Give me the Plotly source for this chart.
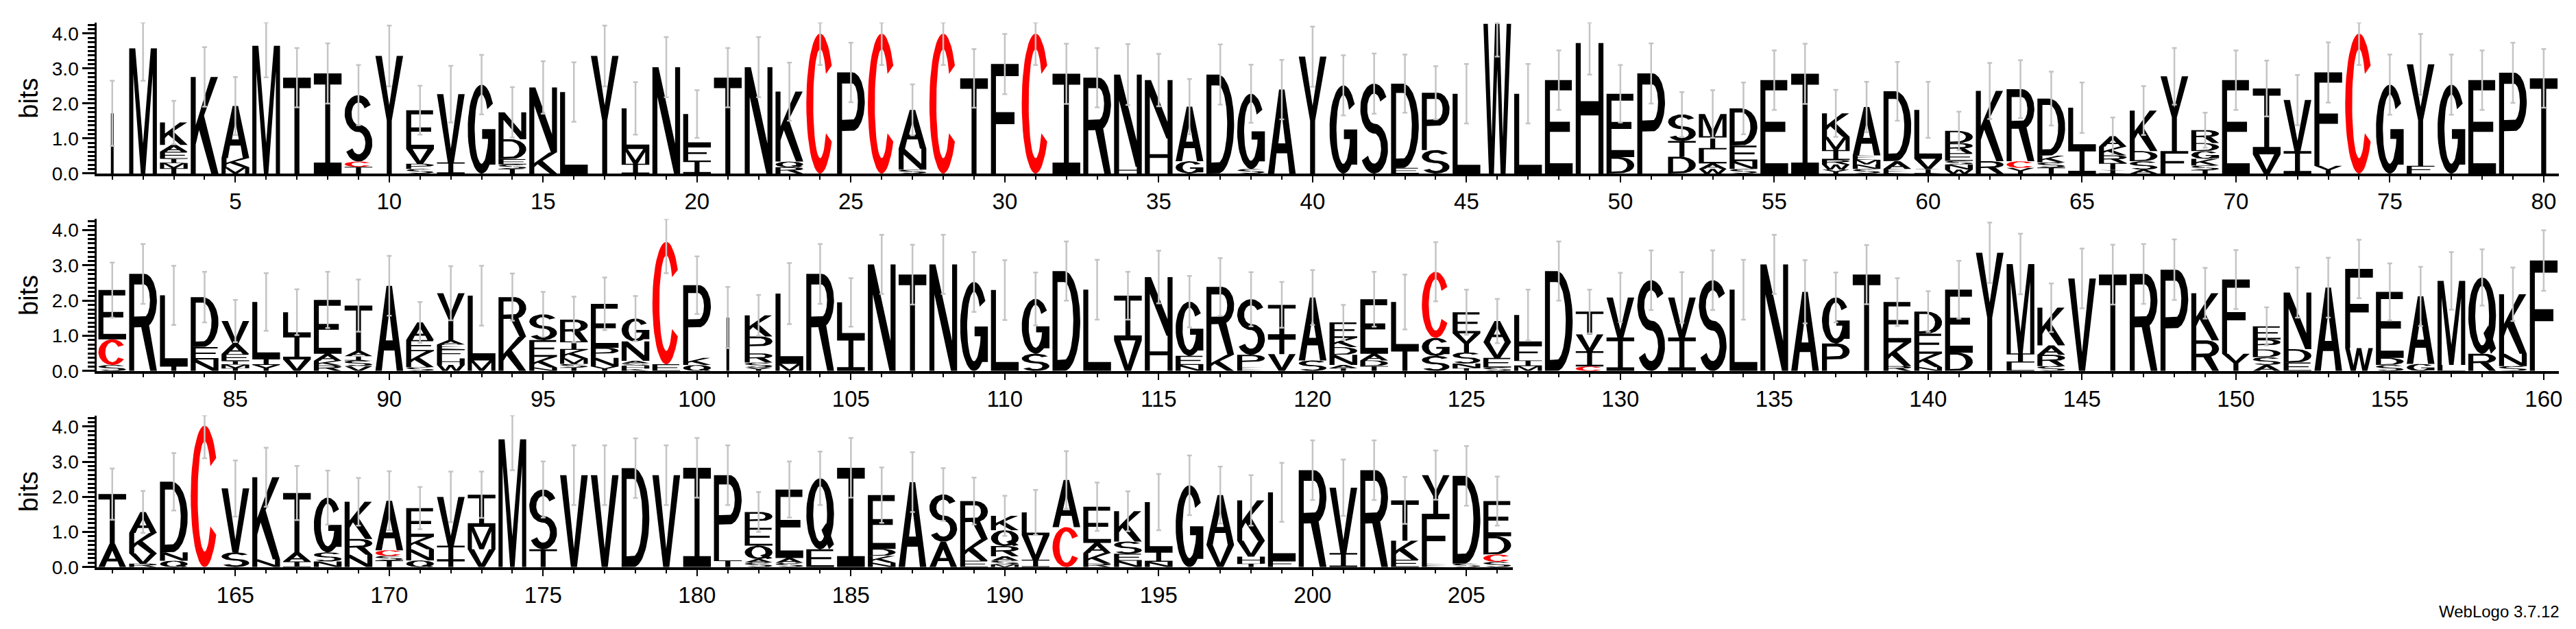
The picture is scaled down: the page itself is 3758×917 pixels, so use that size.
import math
import plotly.graph_objects as go

# ---------------- data (bottom -> top letter stacks, heights in bits) ----------------
row1_start = 1
row1_stacks = [
    "|:1.72", "M:3.58", "T:0.15 M:0.15 I:0.12 E:0.2 A:0.2 K:0.64", "K:2.76", "M:0.18 K:0.26 A:1.49",
    "M:3.65", "T:2.74", "I:2.86", "T:0.19 C:0.15 S:1.9", "Y:3.36",
    "S:0.13 P:0.15 V:0.42 E:1.11", "I:0.32 V:1.95", "G:2.54", "T:0.13 S:0.13 E:0.15 D:0.57 N:0.77", "K:0.6 N:1.86",
    "L:2.33", "Y:3.36", "I:0.28 M:0.42 L:1.16", "N:3.04", "I:0.37 F:0.42 L:0.91",
    "T:2.74", "N:3.04", "R:0.18 Q:0.16 K:2.0", "C:4.0", "P:2.89",
    "C:4.0", "S:0.11 N:0.6 A:1.11", "C:4.0", "T:2.72", "F:3.13",
    "C:4.0", "I:2.85", "R:2.74", "H:0.19 N:2.64", "H:1.0 N:1.67",
    "G:0.35 A:1.56", "D:2.83", "S:0.13 G:2.15", "A:2.4", "Y:3.34",
    "G:2.52", "S:2.57", "E:0.16 D:2.41", "S:0.67 P:1.64", "L:2.28",
    "W:4.28", "L:2.28", "E:2.67", "H:3.73", "D:0.47 E:1.81",
    "P:2.86", "D:0.48 T:0.45 S:0.76", "W:0.13 A:0.16 L:0.4 I:0.38 M:0.63", "S:0.13 N:0.22 E:0.45 D:1.06", "E:2.67",
    "I:2.85", "Y:0.11 W:0.15 R:0.13 I:0.28 M:0.38 K:0.67", "S:0.13 N:0.13 M:0.13 E:0.13 A:1.38", "E:0.13 A:0.22 D:2.0", "I:0.13 V:0.29 L:1.4",
    "W:0.11 N:0.15 S:0.1 E:0.22 R:0.29 D:0.35", "R:0.35 K:2.01", "Y:0.16 C:0.19 R:2.06", "T:0.17 S:0.15 K:0.19 D:1.63", "I:0.71 L:1.17",
    "I:0.1 T:0.2 R:0.22 K:0.25 A:0.3", "A:0.11 S:0.24 D:0.29 K:1.16", "F:0.64 Y:2.14", "T:0.1 S:0.13 K:0.19 G:0.22 D:0.23 R:0.37", "E:2.67",
    "V:0.55 I:1.88", "I:0.64 V:1.46", "Y:0.22 F:2.67", "C:4.0", "G:2.54",
    "F:0.22 Y:2.9", "G:2.54", "E:2.67", "P:2.88", "T:2.72",
]
row1_err = [
    0.93, 0.93, 0.62, 0.85, 0.83, 0.90, 0.85, 0.86, 0.86, 0.87,
    0.70, 0.81, 0.85, 0.72, 0.75, 0.85, 0.87, 0.75, 0.86, 0.68,
    0.85, 0.86, 0.83, 0.90, 0.85, 0.90, 0.73, 0.90, 0.84, 0.86,
    0.90, 0.86, 0.85, 0.87, 0.75, 0.79, 0.86, 0.83, 0.85, 0.86,
    0.86, 0.86, 0.83, 0.76, 0.85, 0.94, 0.85, 0.85, 0.90, 0.82,
    0.86, 0.64, 0.68, 0.74, 0.85, 0.86, 0.67, 0.72, 0.84, 0.80,
    0.55, 0.80, 0.83, 0.77, 0.72, 0.53, 0.70, 0.81, 0.50, 0.85,
    0.80, 0.72, 0.86, 0.90, 0.86, 0.87, 0.86, 0.85, 0.86, 0.84,
]

row2_start = 81
row2_stacks = [
    "S:0.17 C:0.73 E:1.4", "R:2.76", "T:0.14 L:2.01", "N:0.33 E:0.35 D:1.42", "T:0.08 M:0.1 I:0.1 E:0.2 A:0.3 V:0.64",
    "Y:0.17 I:0.18 L:1.61", "V:0.33 I:0.7 L:0.64", "R:0.16 K:0.13 A:0.2 E:1.53", "V:0.14 S:0.16 I:0.12 A:0.15 T:1.29", "A:2.42",
    "S:0.11 K:0.45 E:0.32 A:0.5", "W:0.17 H:0.19 F:0.26 E:0.13 A:0.13 Y:1.33", "M:0.3 L:1.84", "K:0.97 R:1.13", "N:0.1 K:0.3 E:0.48 S:0.73",
    "T:0.1 S:0.1 M:0.16 K:0.24 I:0.24 R:0.62", "Y:0.13 N:0.24 P:0.29 E:1.25", "K:0.07 H:0.08 S:0.07 A:0.07 N:0.55 G:0.65", "E:0.19 C:3.48", "Q:0.17 K:0.2 P:2.07",
    "|:1.52", "Y:0.1 S:0.14 R:0.26 P:0.48 K:0.6", "M:0.2 L:2.0", "R:2.76", "I:0.97 L:0.98",
    "N:3.03", "T:2.74", "N:3.03", "G:2.53", "L:2.3",
    "S:0.49 G:1.56", "D:2.84", "L:2.31", "V:0.87 I:1.27", "H:1.0 N:1.67",
    "N:0.17 E:0.26 G:1.54", "K:0.46 R:1.93", "E:0.11 P:0.35 S:1.58", "V:0.48 T:0.46 I:0.94", "S:0.3 A:1.79",
    "T:0.08 A:0.09 N:0.29 D:0.22 K:0.26 E:0.44", "T:0.14 D:0.16 A:0.19 E:1.55", "T:0.62 L:1.34", "S:0.43 G:0.51 C:1.88", "T:0.08 N:0.13 S:0.32 Y:0.54 E:0.6",
    "S:0.1 E:0.27 V:0.45 A:0.6", "M:0.14 I:0.16 F:0.45 L:0.84", "D:2.84", "C:0.13 I:0.43 V:0.48 T:0.65", "I:0.95 V:1.14",
    "S:2.58", "I:0.95 V:1.14", "S:2.58", "L:2.31", "N:3.03",
    "A:2.25", "P:0.78 G:1.31", "T:2.74", "R:0.14 K:0.67 E:1.15", "N:0.11 K:0.38 E:0.57 D:0.63",
    "D:0.52 E:1.79", "Y:3.36", "L:0.24 I:0.26 M:2.54", "S:0.14 R:0.32 A:0.27 K:1.07", "V:2.63",
    "T:2.74", "R:2.76", "P:2.88", "R:0.87 K:1.34", "Y:0.49 F:2.11",
    "A:0.17 S:0.22 D:0.22 P:0.29 E:0.37", "E:0.24 D:0.38 N:1.61", "A:2.37", "W:0.65 F:2.25", "S:0.17 D:0.2 E:1.88",
    "G:0.2 A:1.92", "L:0.17 M:2.39", "R:0.49 Q:2.17", "S:0.14 N:0.35 K:1.69", "F:3.14",
]
row2_err = [
    0.78, 0.85, 0.84, 0.72, 0.60, 0.82, 0.65, 0.80, 0.74, 0.85,
    0.58, 0.77, 0.85, 0.67, 0.64, 0.65, 0.75, 0.64, 0.89, 0.82,
    0.87, 0.58, 0.87, 0.85, 0.69, 0.84, 0.85, 0.84, 0.85, 0.85,
    0.75, 0.84, 0.85, 0.68, 0.75, 0.73, 0.82, 0.77, 0.65, 0.78,
    0.50, 0.78, 0.78, 0.84, 0.64, 0.63, 0.72, 0.84, 0.62, 0.70,
    0.85, 0.72, 0.85, 0.85, 0.84, 0.90, 0.71, 0.84, 0.68, 0.58,
    0.82, 0.86, 0.86, 0.69, 0.85, 0.85, 0.85, 0.86, 0.72, 0.84,
    0.54, 0.71, 0.85, 0.83, 0.81, 0.84, 0.82, 0.80, 0.76, 0.86,
]

row3_start = 161
row3_stacks = [
    "A:0.67 T:1.41", "R:0.1 V:0.29 K:0.58 A:0.6", "Q:0.18 N:0.24 D:2.01", "C:4.03", "S:0.42 V:1.82",
    "N:0.22 K:2.34", "I:0.16 A:0.26 T:1.69", "N:0.16 S:0.26 G:1.56", "N:0.35 R:0.45 K:1.06", "T:0.19 S:0.13 C:0.16 A:1.41",
    "Q:0.19 N:0.32 K:0.35 E:0.82", "T:0.18 I:0.43 V:1.39", "V:0.51 M:0.64 I:0.91", "M:3.64", "T:0.51 S:1.7",
    "V:2.62", "V:2.62", "D:2.82", "V:2.62", "I:2.83",
    "T:0.19 P:2.43", "S:0.13 A:0.1 Q:0.38 E:0.51 P:0.45", "S:0.12 A:0.14 E:1.95", "E:0.51 Q:2.02", "I:2.83",
    "N:0.12 K:0.2 D:0.2 E:1.53", "A:2.42", "A:0.72 S:1.35", "E:0.18 K:0.61 R:1.09", "M:0.08 S:0.1 A:0.13 R:0.29 Q:0.45 K:0.41",
    "I:0.21 V:0.7 L:0.65", "C:1.14 A:1.34", "R:0.1 K:0.3 A:0.29 E:1.03", "N:0.18 E:0.2 S:0.35 K:0.86", "N:0.15 I:0.29 L:1.41",
    "G:2.33", "V:0.63 A:1.42", "T:0.1 H:0.2 V:0.45 K:1.15", "F:0.18 L:1.95", "R:2.76",
    "I:0.4 V:1.86", "R:2.76", "E:0.21 K:0.54 T:1.15", "E:0.1 F:1.42 Y:1.1", "S:0.1 D:2.5",
    "S:0.15 C:0.21 D:0.52 E:1.0",
]
row3_err = [
    0.73, 0.60, 0.82, 0.93, 0.80, 0.84, 0.77, 0.77, 0.68, 0.84,
    0.60, 0.72, 0.66, 0.88, 0.80, 0.85, 0.85, 0.85, 0.85, 0.85,
    0.85, 0.57, 0.80, 0.76, 0.85, 0.79, 0.85, 0.75, 0.67, 0.57,
    0.64, 0.82, 0.69, 0.57, 0.80, 0.85, 0.81, 0.72, 0.84, 0.85,
    0.80, 0.85, 0.67, 0.70, 0.85, 0.70,
]

rows = [
    (row1_start, row1_stacks, row1_err, 80),
    (row2_start, row2_stacks, row2_err, 80),
    (row3_start, row3_stacks, row3_err, 46),
]

YMAX = 4.32
LETTER_COLORS = {"C": "#ff0000"}
DEFAULT_COLOR = "#000000"

# ---------------- glyph templates (unit box, style only) ----------------
SW, SWR, BH = 0.18, 0.25, 0.11


def arc(cx, cy, rx, ry, a0, a1, n=40):
    pts = []
    for i in range(n + 1):
        a = math.radians(a0 + (a1 - a0) * i / n)
        pts.append((cx + rx * math.cos(a), cy + ry * math.sin(a)))
    return pts


def ring_arc(cx, cy, rxo, ryo, rxi, ryi, a0, a1):
    return arc(cx, cy, rxo, ryo, a0, a1) + arc(cx, cy, rxi, ryi, a1, a0)


def rect(u0, v0, u1, v1):
    return [(u0, v0), (u1, v0), (u1, v1), (u0, v1)]


h2 = BH / 2
S_rx, S_ry = 0.5 - SWR / 2, (0.5 - BH / 2) / 2
GLYPHS = {
    "A": ([[(0, 0), (0.4, 1), (0.6, 1), (1, 0), (0.77, 0), (0.69, 0.24), (0.31, 0.24), (0.23, 0)]],
          [[(0.375, 0.36), (0.625, 0.36), (0.5, 0.7)]], []),
    "C": ([ring_arc(0.5, 0.5, 0.5, 0.5, 0.5 - SWR, 0.5 - BH, 33, 327)], [], []),
    "D": ([[(0, 0), (0.42, 0)] + arc(0.42, 0.5, 0.58, 0.5, -90, 90) + [(0, 1)]],
          [[(SW, BH), (0.42, BH)] + arc(0.42, 0.5, 0.58 - SWR, 0.5 - BH, -90, 90) + [(SW, 1 - BH)]], []),
    "E": ([[(0, 0), (1, 0), (1, BH), (SW, BH), (SW, 0.5 - h2), (0.9, 0.5 - h2), (0.9, 0.5 + h2),
            (SW, 0.5 + h2), (SW, 1 - BH), (0.97, 1 - BH), (0.97, 1), (0, 1)]], [], []),
    "F": ([[(0, 0), (SW, 0), (SW, 0.45), (0.85, 0.45), (0.85, 0.45 + BH), (SW, 0.45 + BH),
            (SW, 1 - BH), (1, 1 - BH), (1, 1), (0, 1)]], [], []),
    "G": ([ring_arc(0.5, 0.5, 0.5, 0.5, 0.5 - SWR, 0.5 - BH, 35, 360),
           rect(0.52, 0.5 - BH, 1, 0.5), rect(1 - SWR, 0.1, 1, 0.5)], [], []),
    "H": ([[(0, 0), (SW, 0), (SW, 0.5 - h2), (1 - SW, 0.5 - h2), (1 - SW, 0), (1, 0), (1, 1),
            (1 - SW, 1), (1 - SW, 0.5 + h2), (SW, 0.5 + h2), (SW, 1), (0, 1)]], [], []),
    "I": ([[(0, 0), (1, 0), (1, BH), (0.5 + SW / 2, BH), (0.5 + SW / 2, 1 - BH), (1, 1 - BH), (1, 1),
            (0, 1), (0, 1 - BH), (0.5 - SW / 2, 1 - BH), (0.5 - SW / 2, BH), (0, BH)]], [], []),
    "|": ([rect(0.45, 0, 0.55, 1)], [], []),
    "K": ([[(0, 0), (SW, 0), (SW, 0.3), (0.3, 0.45), (0.74, 0), (1, 0), (0.48, 0.6), (0.98, 1),
            (0.72, 1), (SW, 0.5), (SW, 1), (0, 1)]], [], []),
    "L": ([[(0, 0), (1, 0), (1, BH), (SW, BH), (SW, 1), (0, 1)]], [], []),
    "M": ([[(0, 0), (0.15, 0), (0.15, 0.8), (0.42, 0), (0.58, 0), (0.85, 0.8), (0.85, 0), (1, 0),
            (1, 1), (0.78, 1), (0.5, 0.24), (0.22, 1), (0, 1)]], [], []),
    "N": ([[(0, 0), (SW, 0), (SW, 0.72), (0.78, 0), (1, 0), (1, 1), (1 - SW, 1), (1 - SW, 0.28),
            (0.22, 1), (0, 1)]], [], []),
    "P": ([[(0, 0), (SW, 0), (SW, 0.42), (0.55, 0.42)] + arc(0.55, 0.71, 0.45, 0.29, -90, 90) + [(0, 1)]],
          [[(SW, 0.42 + BH), (0.55, 0.42 + BH)] + arc(0.55, 0.71, 0.45 - SWR, 0.29 - BH, -90, 90)
           + [(SW, 1 - BH)]], []),
    "Q": ([arc(0.5, 0.5, 0.5, 0.5, 0, 360, 64)],
          [arc(0.5, 0.5, 0.5 - SWR, 0.5 - BH, 0, 360, 64)],
          [[(0.55, 0.27), (0.72, 0.37), (1.0, 0.07), (0.82, 0.0)]]),
    "R": ([[(0, 0), (SW, 0), (SW, 0.45), (0.55, 0.45)] + arc(0.55, 0.725, 0.45, 0.275, -90, 90) + [(0, 1)],
           [(0.42, 0.47), (0.76, 0), (1, 0), (0.7, 0.5)]],
          [[(SW, 0.45 + BH), (0.55, 0.45 + BH)] + arc(0.55, 0.725, 0.45 - SWR, 0.275 - BH, -90, 90)
           + [(SW, 1 - BH)]], []),
    "S": ([ring_arc(0.5, 0.5 + S_ry, S_rx + SWR / 2, S_ry + BH / 2, S_rx - SWR / 2, S_ry - BH / 2, 28, 270),
           ring_arc(0.5, 0.5 - S_ry, S_rx + SWR / 2, S_ry + BH / 2, S_rx - SWR / 2, S_ry - BH / 2, 90, -152)],
          [], []),
    "T": ([[(0, 1), (1, 1), (1, 1 - BH), (0.5 + SW / 2, 1 - BH), (0.5 + SW / 2, 0), (0.5 - SW / 2, 0),
            (0.5 - SW / 2, 1 - BH), (0, 1 - BH)]], [], []),
    "V": ([[(0, 1), (0.23, 1), (0.5, 0.2), (0.77, 1), (1, 1), (0.61, 0), (0.39, 0)]], [], []),
    "W": ([[(0, 1), (0.16, 1), (0.3, 0.24), (0.42, 1), (0.58, 1), (0.7, 0.24), (0.84, 1), (1, 1),
            (0.8, 0), (0.62, 0), (0.5, 0.7), (0.38, 0), (0.2, 0)]], [], []),
    "Y": ([[(0, 1), (0.23, 1), (0.5, 0.58), (0.77, 1), (1, 1), (0.5 + SW / 2, 0.45), (0.5 + SW / 2, 0),
            (0.5 - SW / 2, 0), (0.5 - SW / 2, 0.45)]], [], []),
}

LETTER_W = 0.9


def parse(stack):
    out = []
    for tok in stack.split():
        k, v = tok.split(":")
        out.append((k, float(v)))
    return out


def add_poly(buf, poly, xc, base, h):
    for (u, v) in poly + [poly[0]]:
        buf[0].append(xc - LETTER_W / 2 + u * LETTER_W)
        buf[1].append(base + v * h)
    buf[0].append(None)
    buf[1].append(None)


W, H = 3758, 917
PX_PER_POS = 44.96
LEFT_PX = 133.5
base_px = [249.3, 542.3, 833.3]
ppb = [51.9, 52.2, 52.1]

fig = go.Figure()
FONT = "Liberation Sans, Arial, Helvetica, sans-serif"

for r, (start, stacks, errs, npos) in enumerate(rows):
    xa = "x" if r == 0 else f"x{r + 1}"
    ya = "y" if r == 0 else f"y{r + 1}"
    bufs = {"black": ([], []), "red": ([], []), "hole": ([], []), "over_black": ([], []), "over_red": ([], [])}
    px, ptot, eup, edn = [], [], [], []
    for i, st in enumerate(stacks):
        pos = start + i
        base = 0.0
        for letter, hgt in parse(st):
            fills, holes, overs = GLYPHS[letter]
            col = "red" if letter in LETTER_COLORS else "black"
            for poly in fills:
                add_poly(bufs[col], poly, pos, base, hgt)
            for poly in holes:
                add_poly(bufs["hole"], poly, pos, base, hgt)
            for poly in overs:
                add_poly(bufs["over_" + col], poly, pos, base, hgt)
            base += hgt
        px.append(pos)
        ptot.append(base)
        eup.append(max(0.0, min(errs[i], YMAX - base)))
        edn.append(errs[i])

    for key, color in [("black", DEFAULT_COLOR), ("red", LETTER_COLORS["C"]), ("hole", "#ffffff"),
                       ("over_black", DEFAULT_COLOR), ("over_red", LETTER_COLORS["C"])]:
        xs, ys = bufs[key]
        if not xs:
            continue
        fig.add_trace(go.Scatter(x=xs, y=ys, mode="lines", fill="toself", fillcolor=color,
                                 line=dict(width=0, color=color), hoverinfo="skip",
                                 showlegend=False, xaxis=xa, yaxis=ya))
    fig.add_trace(go.Scatter(x=px, y=ptot, mode="markers", marker=dict(size=1, opacity=0),
                             error_y=dict(type="data", symmetric=False, array=eup, arrayminus=edn,
                                          color="#c4c4c4", thickness=2.5, width=3.5),
                             hoverinfo="skip", showlegend=False, cliponaxis=False,
                             xaxis=xa, yaxis=ya))

    x0 = LEFT_PX / W
    x1 = (LEFT_PX + npos * PX_PER_POS) / W
    yb = 1 - base_px[r] / H
    yt = 1 - (base_px[r] - YMAX * ppb[r]) / H
    xkey = "xaxis" if r == 0 else f"xaxis{r + 1}"
    ykey = "yaxis" if r == 0 else f"yaxis{r + 1}"
    fig.update_layout(**{
        xkey: dict(domain=[x0, x1], range=[start - 0.5, start - 0.5 + npos], anchor=ya,
                   tickmode="linear", tick0=0, dtick=5, ticks="outside", ticklen=9, tickwidth=2,
                   tickcolor="black", showline=True, linecolor="black", linewidth=3.5,
                   showgrid=False, zeroline=False,
                   minor=dict(tick0=0, dtick=1, ticks="outside", ticklen=5, tickwidth=2, tickcolor="black"),
                   tickfont=dict(family=FONT, size=33, color="black")),
        ykey: dict(domain=[yb, yt], range=[0, YMAX], anchor=xa,
                   tickmode="linear", tick0=0, dtick=1, tickformat=".1f", ticks="outside",
                   ticklen=18, tickwidth=3, tickcolor="black", showline=True, linecolor="black",
                   linewidth=3, showgrid=False, zeroline=False,
                   minor=dict(tick0=0, dtick=0.125, ticks="outside", ticklen=10, tickwidth=3,
                              tickcolor="black"),
                   tickfont=dict(family=FONT, size=28, color="black")),
    })
    fig.add_annotation(text="bits", textangle=-90, xref="paper", yref="paper",
                       x=34 / W, y=(yb + yt) / 2, xanchor="center", yanchor="middle",
                       showarrow=False, font=dict(family=FONT, size=38, color="black"))

fig.add_annotation(text="WebLogo 3.7.12", xref="paper", yref="paper", x=3733 / W, y=1 - 899 / H,
                   xanchor="right", yanchor="middle", showarrow=False,
                   font=dict(family=FONT, size=24, color="black"))

fig.update_layout(width=W, height=H, margin=dict(l=0, r=0, t=0, b=0),
                  paper_bgcolor="white", plot_bgcolor="white", showlegend=False)

fig.write_html("out.html")
